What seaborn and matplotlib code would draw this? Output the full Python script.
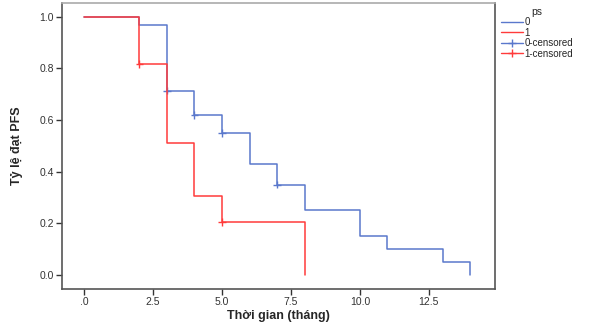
import pandas as pd
import matplotlib
matplotlib.use('Agg')
import matplotlib.pyplot as plt
import seaborn as sns
from matplotlib.lines import Line2D

# Kaplan-Meier steps
t0 = [0, 2, 3, 4, 5, 6, 7, 8, 10, 11, 13, 14]
s0 = [1.0, 0.97, 0.714, 0.62, 0.55, 0.43, 0.35, 0.25, 0.15, 0.10, 0.05, 0.0]
t1 = [0, 2, 3, 4, 5, 8]
s1 = [1.0, 0.818, 0.512, 0.307, 0.205, 0.0]

# censored marks
c0_t = [3, 4, 5, 7]
c0_s = [0.714, 0.62, 0.55, 0.35]
c1_t = [2, 5]
c1_s = [0.818, 0.205]

xticks = [0, 2.5, 5, 7.5, 10, 12.5]
xtick_labels = ['.0', '2.5', '5.0', '7.5', '10.0', '12.5']
yticks = [0.0, 0.2, 0.4, 0.6, 0.8, 1.0]

blue = '#5a78cc'
red = '#ff3b3b'

km = pd.concat([
    pd.DataFrame({'time': t0, 'surv': s0, 'ps': '0'}),
    pd.DataFrame({'time': t1, 'surv': s1, 'ps': '1'}),
])
cens = pd.concat([
    pd.DataFrame({'time': c0_t, 'surv': c0_s, 'ps': '0'}),
    pd.DataFrame({'time': c1_t, 'surv': c1_s, 'ps': '1'}),
])

sns.set_style('white')
plt.rcParams['font.family'] = ['Liberation Sans', 'DejaVu Sans']

fig = plt.figure(figsize=(5.92, 3.25), dpi=100)
ax = fig.add_axes([0.105, 0.111, 0.731, 0.880])

pal = {'0': blue, '1': red}
sns.lineplot(data=km, x='time', y='surv', hue='ps', palette=pal,
             drawstyle='steps-post', linewidth=1.1, legend=False, ax=ax,
             estimator=None, sort=False)
sns.scatterplot(data=cens, x='time', y='surv', hue='ps', palette=pal,
                marker='+', s=30, linewidth=1.0, legend=False, ax=ax)

ax.set_xlim(-0.8, 14.9)
ax.set_ylim(-0.054, 1.054)
ax.set_xticks(xticks)
ax.set_xticklabels(xtick_labels)
ax.set_yticks(yticks)
ax.set_yticklabels([f'{v:.1f}' for v in yticks])
ax.tick_params(axis='both', labelsize=7.5, colors='#333333', length=4,
               width=1, direction='out', left=True, bottom=True, pad=2)
for side in ['left', 'bottom', 'right']:
    ax.spines[side].set_color('#555555')
    ax.spines[side].set_linewidth(1.2)
ax.spines['top'].set_color('#aaaaaa')
ax.spines['top'].set_linewidth(1.2)

ax.set_xlabel('Thời gian (tháng)', fontsize=9, fontweight='bold', labelpad=2)
ax.set_ylabel('Tỷ lệ đạt PFS', fontsize=9, fontweight='bold', labelpad=12)

handles = [
    Line2D([], [], color=blue, lw=1),
    Line2D([], [], color=red, lw=1),
    Line2D([], [], color=blue, lw=1, marker='+', markersize=6),
    Line2D([], [], color=red, lw=1, marker='+', markersize=6),
]
leg = fig.legend(handles, ['0', '1', '0-censored', '1-censored'], title='ps',
                 loc='upper left', bbox_to_anchor=(0.835, 1.0), frameon=False,
                 fontsize=7, title_fontsize=7.5, handlelength=2.2,
                 handletextpad=0.2, labelspacing=0.05, borderpad=0.2)

fig.savefig('out.png', dpi=100)
